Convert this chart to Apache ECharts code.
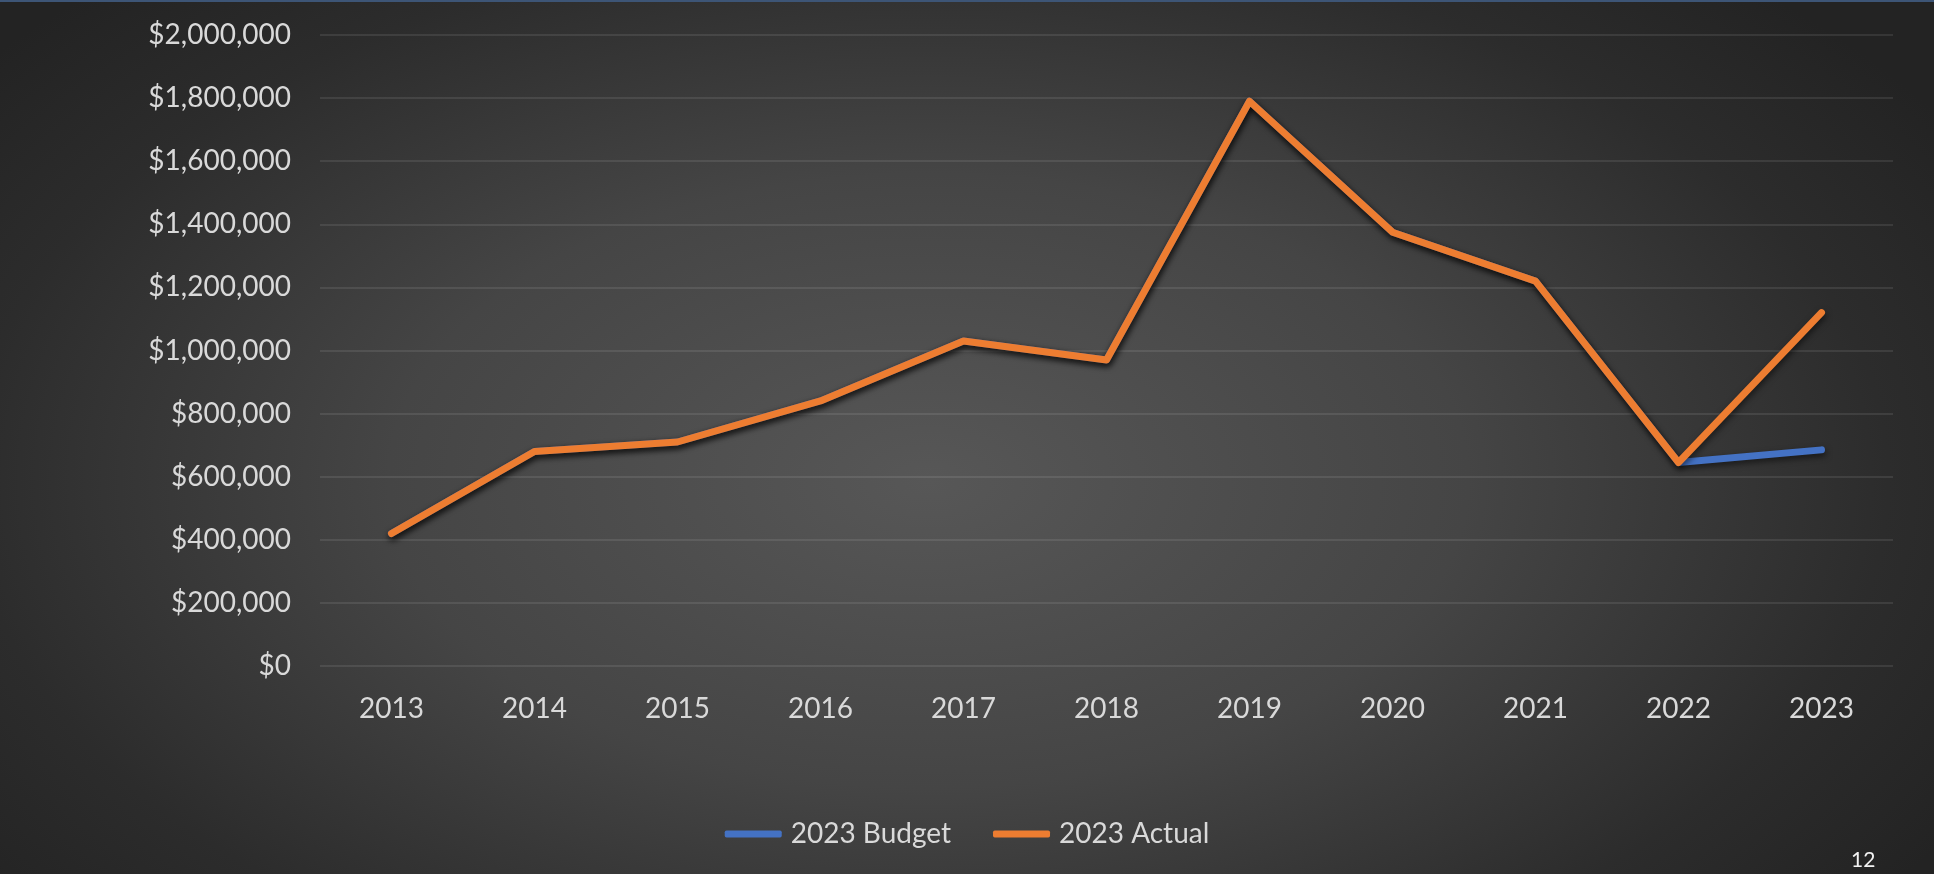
<!DOCTYPE html>
<html>
<head>
<meta charset="utf-8">
<title>Budget vs Actual 2013–2023</title>
<script src="https://cdn.jsdelivr.net/npm/echarts@6/dist/echarts.min.js"></script>
<style>
  html, body { margin: 0; padding: 0; width: 100%; height: 100%; overflow: hidden; }
  body {
    background: radial-gradient(ellipse 62% 78% at 48% 55%, #575757 0%, #454545 45%, #2c2c2c 80%, #232323 100%);
  }
  #chart { width: 1934px; height: 874px; }
</style>
</head>
<body>
<div id="chart"></div>
<script>
// Fiscal years on the category axis
const years = ['2013', '2014', '2015', '2016', '2017', '2018', '2019', '2020', '2021', '2022', '2023'];

// Budget follows actuals through 2022; 2023 is the planned figure
const budget2023 = [420000, 680000, 710000, 840000, 1030000, 970000, 1790000, 1375000, 1220000, 645000, 685000];

// Actual results by year
const actual2023 = [420000, 680000, 710000, 840000, 1030000, 970000, 1790000, 1375000, 1220000, 645000, 1120000];

// Value axis ticks
const yMin = 0;
const yMax = 2000000;
const yStep = 200000;

const pageNumber = '12';

const labelFont = 'Lato, "Open Sans", sans-serif';
const textColor = '#d9d9d9';

const chart = echarts.init(document.getElementById('chart'), null, { renderer: 'canvas' });

const money = v => '$' + Number(v).toLocaleString('en-US');

const lineShadow = {
  shadowColor: 'rgba(0,0,0,0.55)',
  shadowBlur: 6,
  shadowOffsetX: 1,
  shadowOffsetY: 3
};

chart.setOption({
  backgroundColor: 'transparent',
  animation: false,
  textStyle: { fontFamily: labelFont },
  grid: { left: 320, right: 41, top: 35, bottom: 208, containLabel: false },
  legend: {
    bottom: 21,
    left: 'center',
    itemWidth: 57,
    itemHeight: 7,
    itemGap: 42,
    icon: 'roundRect',
    textStyle: { color: textColor, fontSize: 28, fontFamily: labelFont, padding: [0, 0, 0, 4] },
    data: ['2023 Budget', '2023 Actual']
  },
  xAxis: {
    type: 'category',
    data: years,
    boundaryGap: true,
    axisLine: { show: false },
    axisTick: { show: false },
    axisLabel: { color: textColor, fontSize: 28, margin: 29, fontFamily: labelFont }
  },
  yAxis: {
    type: 'value',
    min: yMin,
    max: yMax,
    interval: yStep,
    axisLine: { show: false },
    axisTick: { show: false },
    axisLabel: { color: textColor, fontSize: 28, margin: 29, fontFamily: labelFont, formatter: money },
    splitLine: { lineStyle: { color: 'rgba(255,255,255,0.12)', width: 1.5 } }
  },
  graphic: [
    {
      type: 'rect',
      left: 0, top: 0,
      shape: { width: 1934, height: 2 },
      style: { fill: '#3d5576' },
      silent: true
    },
    {
      type: 'text',
      left: 1851,
      top: 850,
      style: { text: pageNumber, fill: '#f2f2f2', font: '21px ' + labelFont },
      silent: true
    }
  ],
  series: [
    {
      name: '2023 Budget',
      type: 'line',
      data: budget2023,
      symbol: 'none',
      itemStyle: { color: '#4472c4' },
      lineStyle: Object.assign({ color: '#4472c4', width: 7, cap: 'round', join: 'round' }, lineShadow),
      z: 2
    },
    {
      name: '2023 Actual',
      type: 'line',
      data: actual2023,
      symbol: 'none',
      itemStyle: { color: '#ed7d31' },
      lineStyle: Object.assign({ color: '#ed7d31', width: 7, cap: 'round', join: 'round' }, lineShadow),
      z: 3
    }
  ]
});
</script>
</body>
</html>
